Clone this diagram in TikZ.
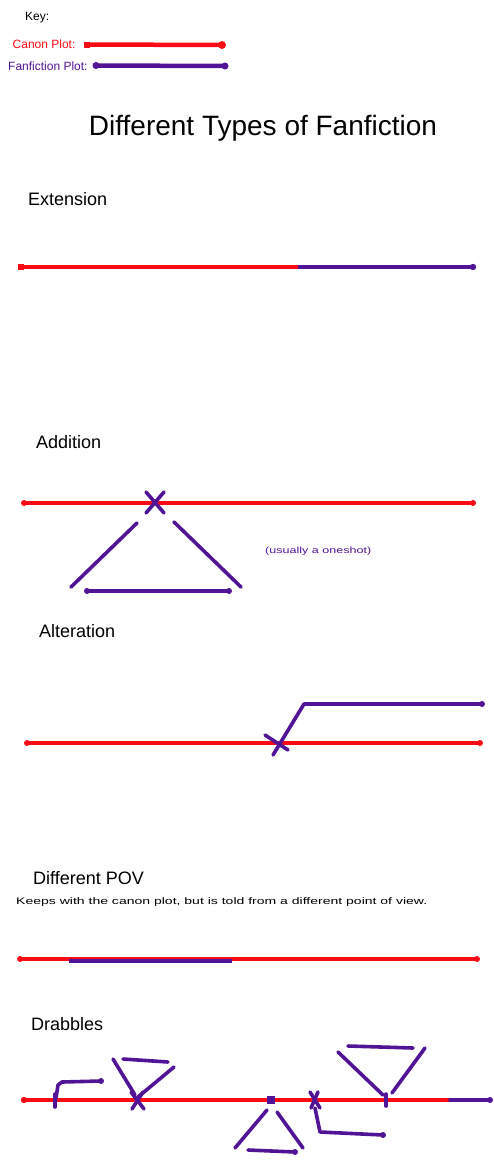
\documentclass[tikz,border=0pt]{standalone}
\usepackage{fontspec}
\setmainfont{Liberation Sans}
\usetikzlibrary{positioning}
\definecolor{canonred}{RGB}{250,12,22}
\definecolor{fanpurple}{RGB}{82,20,150}

\begin{document}
\begin{tikzpicture}[x=1pt,y=-1pt,
  canon/.style={draw=canonred,line width=3.6pt},
  fanfic/.style={draw=fanpurple,line width=3.6pt,line cap=round},
  heading/.style={anchor=base west,inner sep=0pt,font=\fontsize{18}{20}\selectfont},
  keytext/.style={anchor=base west,inner sep=0pt,font=\fontsize{12}{14}\selectfont}]
\useasboundingbox (0,0) rectangle (494,1162);

% Key
\node[keytext] (key) at (25,20) {Key:};
\node[keytext,text=canonred] (keycanon) at (12.5,48) {Canon Plot:};
\node[keytext,text=fanpurple] (keyfan) at (8,70) {Fanfiction Plot:};
\draw[canon,line width=4.5pt] (86,44.5) -- (222,45);
\fill[canonred] (84,42) rectangle (90,47.5);
\fill[canonred] (222,45) circle (4);
\draw[fanfic,line width=4.5pt] (96,65.5) -- (225,66);
\fill[fanpurple] (96,65.5) circle (3.5);
\fill[fanpurple] (225,66) circle (3.5);

% Title
\node[anchor=base,inner sep=0pt,font=\fontsize{28}{32}\selectfont] (title) at (263,135) {Different Types of Fanfiction};

% Extension
\node[heading] (extension) at (28,205.5) {Extension};
\draw[canon] (20,267) -- (298,267);
\draw[fanfic,line cap=butt] (298,267) -- (473,267);
\fill[canonred] (18,264) rectangle (24,270);
\fill[fanpurple] (473,267) circle (3.2);

% Addition
\node[heading] (addition) at (36,448) {Addition};
\draw[canon] (24,503) -- (473,503);
\fill[canonred] (24,503) circle (3);
\fill[canonred] (473,503) circle (3);
\draw[fanfic] (146,492) -- (164,513);
\draw[fanfic] (164,492) -- (146,513);
\draw[fanfic] (137,523) -- (71,587);
\draw[fanfic] (174,522) -- (241,587);
\draw[fanfic] (87,591) -- (229,591);
\fill[fanpurple] (87,591) circle (3);
\fill[fanpurple] (229,591) circle (3);
\node[anchor=base west,inner sep=0pt,text=fanpurple,font=\fontsize{9}{10}\selectfont] (oneshot) at (265,553)
  {\resizebox{106pt}{\height}{(usually a oneshot)}};

% Alteration
\node[heading] (alteration) at (39,637) {Alteration};
\draw[canon] (27,743) -- (480,743);
\fill[canonred] (27,743) circle (3);
\fill[canonred] (480,743) circle (3);
\draw[fanfic,line join=round] (273,755) -- (304,704) -- (482,704);
\draw[fanfic] (265,735) -- (288,750);
\fill[fanpurple] (482,704) circle (3);

% Different POV
\node[heading] (pov) at (33,884) {Different POV};
\node[anchor=base west,inner sep=0pt,font=\fontsize{9.5}{11}\selectfont] (povnote) at (16,904)
  {\resizebox{411pt}{\height}{Keeps with the canon plot, but is told from a different point of view.}};
\draw[canon] (20,959) -- (477,959);
\fill[canonred] (20,959) circle (3);
\fill[canonred] (477,959) circle (3);
\draw[fanfic,line cap=butt] (69,961) -- (232,961);

% Drabbles
\node[heading] (drabbles) at (31,1030.5) {Drabbles};
\draw[canon] (24,1100) -- (450,1100);
\fill[canonred] (24,1100) circle (3.2);
\draw[fanfic] (450,1100) -- (490,1100);
\fill[fanpurple] (490,1100) circle (3);
% first drabble
\draw[fanfic] (55,1094) -- (55,1107);
\draw[fanfic,line join=round] (56,1098) -- (58,1085) -- (62,1082) -- (101,1081);
\fill[fanpurple] (101,1081) circle (3);
% second drabble
\draw[fanfic] (131,1092) -- (144,1109);
\draw[fanfic] (143,1092) -- (132,1109);
\draw[fanfic] (113,1059) -- (135,1095);
\draw[fanfic] (174,1067) -- (138,1097);
\draw[fanfic] (123,1059) -- (168,1062);
% third drabble
\fill[fanpurple] (267,1096) rectangle (275,1104);
\draw[fanfic] (235,1148) -- (267,1110);
\draw[fanfic] (277,1112) -- (303,1148);
\draw[fanfic] (248,1150) -- (295,1152);
\fill[fanpurple] (295,1152) circle (3);
% fourth drabble
\draw[fanfic] (310,1092) -- (320,1108);
\draw[fanfic] (318,1092) -- (311,1108);
\draw[fanfic,line join=round] (315,1108) -- (320,1132) -- (383,1135);
\fill[fanpurple] (383,1135) circle (3);
% fifth drabble
\draw[fanfic] (386,1094) -- (386,1106);
\draw[fanfic] (338,1052) -- (383,1095);
\draw[fanfic] (425,1048) -- (392,1093);
\draw[fanfic] (348,1046) -- (413,1048);
\end{tikzpicture}
\end{document}
